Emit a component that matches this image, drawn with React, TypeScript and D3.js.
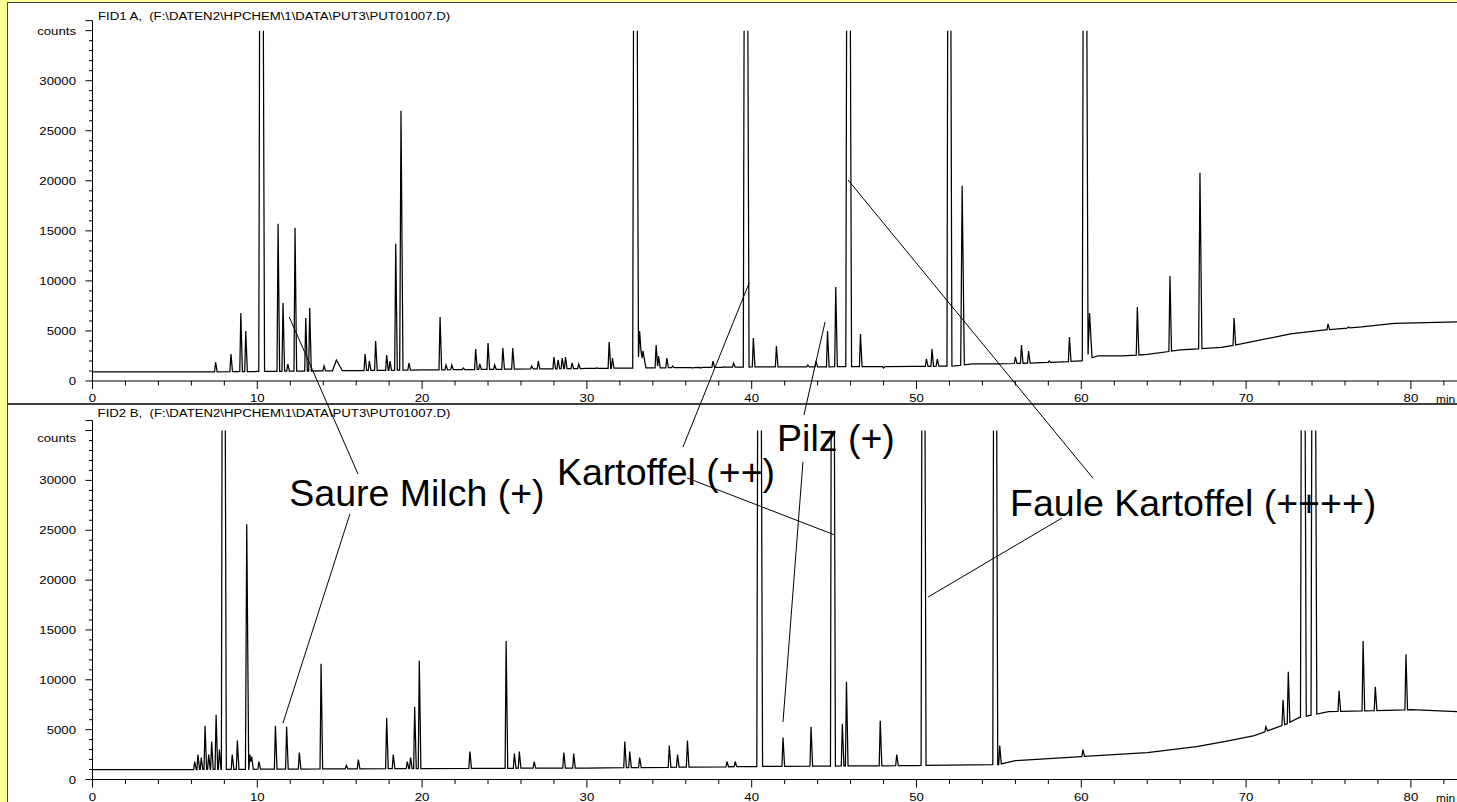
import React from 'react';
import * as d3 from 'd3';

const W = 1457;
const H = 802;

// ---- tick definitions ----
const X_MAJOR = [0, 10, 20, 30, 40, 50, 60, 70, 80];
const Y_MAJOR = [0, 5000, 10000, 15000, 20000, 25000, 30000];

const TOP_TITLE = 'FID1 A,  (F:\\DATEN2\\HPCHEM\\1\\DATA\\PUT3\\PUT01007.D)';
const BOTTOM_TITLE = 'FID2 B,  (F:\\DATEN2\\HPCHEM\\1\\DATA\\PUT3\\PUT01007.D)';

// ---- FID1 A: baseline knots [min, counts] ----
const TOP_BASELINE: [number, number][] = [
  [0, 900], [6, 900], [10, 950], [20, 1100], [30, 1250], [40, 1400], [50, 1450],
  [52.3, 1500], [53.4, 1700], [55, 1700], [58, 1850], [60, 2000], [61, 2500],
  [62.5, 2500], [64, 2650], [66, 3100], [68.5, 3350], [69.7, 3700], [72.7, 4700],
  [74.8, 5100], [77, 5400], [79, 5750], [82.9, 5900],
];

// ---- FID1 A: peaks [retention min, apex counts, base width min] ----
const TOP_PEAKS: [number, number, number?][] = [
  [7.47, 1900], [8.4, 2700], [9.0, 6800], [9.3, 5000], [10.23, 100000, 0.35],
  [11.26, 15700], [11.56, 7800], [11.85, 1700], [12.29, 15300], [12.94, 6300],
  [13.18, 7300], [14.05, 1500], [14.8, 2100, 0.6], [16.54, 2700], [16.8, 2000],
  [17.18, 4000], [17.85, 2600], [18.05, 2000], [18.4, 13700], [18.72, 27000, 0.2],
  [19.2, 1800], [21.09, 6400], [21.45, 1600], [21.8, 1600], [22.5, 1300],
  [23.25, 3200], [23.5, 1700], [24.0, 3800], [24.4, 1600], [24.9, 3300],
  [25.5, 3300], [26.65, 1500], [27.05, 2000], [28.0, 2400], [28.25, 2100],
  [28.5, 2300], [28.7, 2400], [29.1, 1800], [29.5, 1700], [30.6, 1300],
  [31.35, 3900], [31.55, 2300], [32.92, 100000, 0.35], [33.2, 5000, 0.25],
  [33.4, 3000, 0.3], [34.2, 3600], [34.35, 2500], [34.85, 2300], [35.2, 1500],
  [36.4, 1300], [36.9, 1300], [37.65, 2000], [38.3, 1400], [38.9, 1800],
  [39.63, 100000, 0.35], [40.1, 4300], [40.5, 1400], [41.5, 3500], [42.9, 1400],
  [43.4, 1600], [43.9, 2000], [44.6, 5000], [45.1, 9400], [45.85, 100000, 0.35],
  [46.6, 4700], [48.0, 1300], [50.6, 2200], [50.94, 3200], [51.26, 2200],
  [51.97, 100000, 0.3], [52.77, 19500, 0.22], [56.0, 2400], [56.37, 3600],
  [56.8, 3000], [58.05, 2000], [59.28, 4400], [60.2, 100000, 0.35],
  [60.5, 6800, 0.25], [63.4, 7400], [65.38, 10500], [67.2, 20800, 0.2],
  [69.27, 6300], [74.97, 5700], [76.2, 5400],
];

// ---- FID2 B: baseline knots ----
const BOTTOM_BASELINE: [number, number][] = [
  [0, 1000], [6, 1000], [20, 1100], [30, 1150], [40, 1300], [50, 1400], [55, 1500],
  [56, 1900], [60, 2300], [64, 2700], [67, 3300], [69, 3900], [70.5, 4400],
  [71.5, 5000], [72.5, 5600], [73.2, 6200], [75, 6800], [80, 7000], [82.9, 6800],
];

// ---- FID2 B: peaks ----
const BOTTOM_PEAKS: [number, number, number?][] = [
  [6.2, 1800], [6.4, 2500], [6.6, 2200], [6.83, 5400], [7.05, 2500], [7.23, 3800],
  [7.5, 6500], [7.7, 3000], [7.94, 100000, 0.3], [8.48, 2500], [8.79, 3900],
  [9.36, 25600, 0.2], [9.55, 2500], [9.66, 2300], [10.1, 1800], [11.1, 5400],
  [11.78, 5300], [12.55, 2700], [13.87, 11600], [15.4, 1400], [16.13, 2000],
  [17.85, 6200], [18.25, 2500], [19.1, 1800], [19.3, 2200], [19.55, 7300],
  [19.83, 11900], [22.9, 2800], [25.1, 13900], [25.6, 2600], [25.9, 2800],
  [26.8, 1800], [28.6, 2700], [29.2, 2600], [32.3, 3800], [32.6, 2800],
  [33.2, 2200], [35.0, 3400], [35.5, 2500], [36.1, 3900], [38.5, 1800],
  [39.0, 1800], [40.45, 100000, 0.35], [41.9, 4200], [43.6, 5300],
  [44.9, 100000, 0.3], [45.5, 5600], [45.75, 9800], [47.8, 5900], [48.8, 2500],
  [50.4, 100000, 0.3], [54.75, 100000, 0.3], [55.05, 3400], [60.1, 3000],
  [71.2, 5300], [72.24, 8000], [72.56, 10800], [73.44, 100000, 0.35],
  [74.08, 100000, 0.35], [75.64, 8900], [77.1, 13900], [77.84, 9300],
  [79.7, 12550],
];

// ---- annotations: label at bottom-chart coords, leaders in chart coords ----
type Pt = ['T' | 'B', number, number];
const ANNOTATIONS: { text: string; at: [number, number]; lines: [Pt, Pt][] }[] = [
  {
    text: 'Saure Milch (+)', at: [11.94, 27430],
    lines: [[['T', 11.94, 6390], ['B', 16.11, 30640]], [['B', 15.62, 26630], ['B', 11.56, 5670]]],
  },
  {
    text: 'Kartoffel (++)', at: [28.18, 29540],
    lines: [[['T', 39.85, 9820], ['B', 35.83, 33350]], [['B', 36.08, 30240], ['B', 45.05, 24520]]],
  },
  {
    text: 'Pilz (+)', at: [41.54, 32950],
    lines: [[['T', 44.45, 5890], ['B', 43.17, 36560]], [['B', 43.11, 31850], ['B', 41.9, 5770]]],
  },
  {
    text: 'Faule Kartoffel (++++)', at: [55.68, 26430],
    lines: [[['T', 45.85, 20080], ['B', 60.7, 30240]], [['B', 58.83, 26230], ['B', 50.7, 18300]]],
  },
];

const FONT = 'Liberation Sans, Arial, Helvetica, sans-serif';
const SX = 1.2;

// ---- layout ----
const PLOT_LEFT = 92.5;
const x = d3.scaleLinear().domain([0, 80]).range([PLOT_LEFT, PLOT_LEFT + 80 * 16.48]);
const yT = d3.scaleLinear().domain([0, 35000]).range([381, 30.65]);
const yB = d3.scaleLinear().domain([0, 35000]).range([779.5, 430.55]);
const T_END = x.invert(W + 2);

function buildTrace(baseline: [number, number][], peaks: [number, number, number?][]) {
  const base = d3.scaleLinear()
    .domain(baseline.map((d) => d[0]))
    .range(baseline.map((d) => d[1]))
    .clamp(true);
  const bps = new Set<number>();
  baseline.forEach((d) => bps.add(d[0]));
  bps.add(T_END);
  peaks.forEach(([t, , w = 0.16]) => {
    bps.add(t - w * 0.4);
    bps.add(t);
    bps.add(t + w * 0.6);
  });
  const ts = Array.from(bps).filter((t) => t >= 0 && t <= T_END).sort((a, b) => a - b);
  return ts.map((t) => {
    let v = base(t);
    for (const [tp, h, w = 0.16] of peaks) {
      const dl = w * 0.4;
      const dr = w * 0.6;
      const amp = h - base(tp);
      if (t >= tp - dl && t <= tp) v += amp * (1 - (tp - t) / dl);
      else if (t > tp && t <= tp + dr) v += amp * (1 - (t - tp) / dr);
    }
    return [t, v] as [number, number];
  });
}

function Txt(props: { x: number; y: number; anchor?: string; size?: number; sx?: number; children: any }) {
  const { x: tx, y: ty, anchor = 'start', size = 11, sx = SX, children } = props;
  return (
    <text
      transform={`translate(${tx},${ty}) scale(${sx},1)`}
      textAnchor={anchor}
      fontSize={size}
      fontFamily={FONT}
      fill="#000"
      style={{ whiteSpace: 'pre' }}
    >
      {children}
    </text>
  );
}

function Panel(props: {
  y: d3.ScaleLinear<number, number>;
  title: string;
  titleY: number;
  countsY: number;
  axisTop: number;
  trace: [number, number][];
  id: string;
}) {
  const { y, title, titleY, countsY, axisTop, trace, id } = props;
  const y0 = y(0);
  const line = d3.line<[number, number]>().x((d) => x(d[0])).y((d) => y(d[1]));
  const minorY = d3.range(0, axisTop + 1, 1000);
  const minorX = d3.range(0, 83, 2);
  return (
    <g>
      <Txt x={274} y={titleY} anchor="middle">{title}</Txt>
      <clipPath id={id}>
        <rect x={PLOT_LEFT} y={y(35000)} width={W - PLOT_LEFT} height={y0 - y(35000) + 1} />
      </clipPath>
      <path d={line(trace) || ''} fill="none" stroke="#000" strokeWidth={1.25} clipPath={`url(#${id})`} />
      {/* y axis */}
      <line x1={PLOT_LEFT} x2={PLOT_LEFT} y1={y(axisTop)} y2={y0} stroke="#000" strokeWidth={1} />
      {minorY.map((v) => {
        const major = v % 5000 === 0 || v === axisTop;
        return (
          <line key={'y' + v} x1={PLOT_LEFT - (major ? 7 : 3.5)} x2={PLOT_LEFT} y1={y(v)} y2={y(v)} stroke="#000" strokeWidth={1} />
        );
      })}
      {Y_MAJOR.map((v) => (
        <Txt key={'yl' + v} x={76} y={y(v) + 4} anchor="end">{String(v)}</Txt>
      ))}
      <Txt x={76} y={countsY + 4} anchor="end">counts</Txt>
      {/* x axis */}
      <line x1={PLOT_LEFT} x2={W} y1={y0} y2={y0} stroke="#000" strokeWidth={1} />
      {minorX.map((t) => {
        const major = t % 10 === 0;
        return (
          <line key={'x' + t} x1={x(t)} x2={x(t)} y1={y0} y2={y0 + (major ? 8 : 4.5)} stroke="#000" strokeWidth={1} />
        );
      })}
      {X_MAJOR.map((t) => (
        <Txt key={'xl' + t} x={x(t)} y={y0 + 21} anchor="middle">{String(t)}</Txt>
      ))}
      <Txt x={1436} y={y0 + 22} sx={1.08}>min</Txt>
    </g>
  );
}

function pt(p: Pt): [number, number] {
  const [c, t, v] = p;
  return [x(t), c === 'T' ? yT(v) : yB(v)];
}

export default function App() {
  const topTrace = buildTrace(TOP_BASELINE, TOP_PEAKS);
  const bottomTrace = buildTrace(BOTTOM_BASELINE, BOTTOM_PEAKS);
  return (
    <svg width={W} height={H} style={{ position: 'absolute', left: 0, top: 0 }} xmlns="http://www.w3.org/2000/svg">
      <rect x={0} y={0} width={W} height={H} fill="#FFFF99" />
      <rect x={7.5} y={2.5} width={W + 10} height={H + 10} fill="#fff" stroke="#444" strokeWidth={1} />
      <Panel y={yT} title={TOP_TITLE} titleY={20} countsY={31} axisTop={36000} trace={topTrace} id="clipTop" />
      <line x1={8} x2={W} y1={404} y2={404} stroke="#000" strokeWidth={1.3} />
      <Panel y={yB} title={BOTTOM_TITLE} titleY={417} countsY={438} axisTop={36000} trace={bottomTrace} id="clipBottom" />
      {ANNOTATIONS.map((a) => (
        <g key={a.text}>
          {a.lines.map((l, i) => {
            const [x1, y1] = pt(l[0]);
            const [x2, y2] = pt(l[1]);
            return <line key={i} x1={x1} y1={y1} x2={x2} y2={y2} stroke="#000" strokeWidth={1} />;
          })}
          <text x={x(a.at[0])} y={yB(a.at[1])} fontSize={37.5} fontFamily={FONT} fill="#000" style={{ whiteSpace: 'pre' }}>
            {a.text}
          </text>
        </g>
      ))}
    </svg>
  );
}
